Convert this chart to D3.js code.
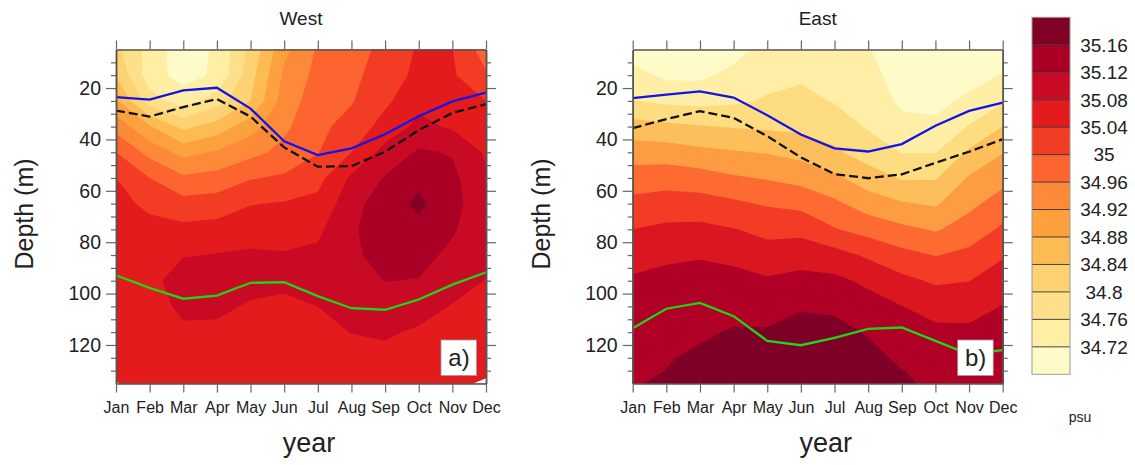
<!DOCTYPE html>
<html>
<head>
<meta charset="utf-8">
<script src="https://cdn.jsdelivr.net/npm/d3@7"></script>
<style>
  html, body { margin: 0; padding: 0; background: #fff; }
  svg { display: block; }
  text { font-family: "Liberation Sans", Arial, sans-serif; fill: #222; }
</style>
</head>
<body>
<svg width="1135" height="465"></svg>
<script>
var months = ["Jan", "Feb", "Mar", "Apr", "May", "Jun", "Jul", "Aug", "Sep", "Oct", "Nov", "Dec"];
var depths = [5, 15, 25, 35, 45, 55, 65, 75, 85, 95, 105, 115, 125, 131, 135];
var depthTicks = [20, 40, 60, 80, 100, 120];
var depthMinor = [10, 15, 25, 30, 35, 45, 50, 55, 65, 70, 75, 85, 90, 95, 105, 110, 115, 125, 130];

// salinity (psu), one row per depth, Jan..Dec
var westSalinity = [
  [34.81, 34.745, 34.695, 34.727, 34.81, 34.91, 34.965, 34.985, 35.01, 35.045, 35.041, 34.98],
  [34.837, 34.738, 34.705, 34.727, 34.825, 34.928, 34.972, 34.99, 35.02, 35.05, 35.045, 35.005],
  [34.887, 34.778, 34.742, 34.781, 34.84, 34.94, 34.98, 34.997, 35.032, 35.07, 35.06, 35.04],
  [34.945, 34.884, 34.829, 34.857, 34.903, 34.952, 34.99, 35.015, 35.055, 35.09, 35.075, 35.06],
  [35.0, 34.947, 34.907, 34.925, 34.948, 34.971, 34.998, 35.04, 35.095, 35.125, 35.117, 35.075],
  [35.04, 35.0, 34.967, 34.974, 34.997, 35.006, 35.027, 35.087, 35.123, 35.15, 35.13, 35.085],
  [35.05, 35.033, 35.014, 35.019, 35.038, 35.043, 35.051, 35.105, 35.143, 35.168, 35.135, 35.09],
  [35.06, 35.05, 35.05, 35.054, 35.065, 35.062, 35.072, 35.115, 35.14, 35.15, 35.125, 35.09],
  [35.065, 35.06, 35.077, 35.082, 35.085, 35.083, 35.088, 35.115, 35.13, 35.135, 35.11, 35.087],
  [35.07, 35.065, 35.105, 35.1, 35.095, 35.09, 35.095, 35.105, 35.121, 35.118, 35.095, 35.079],
  [35.065, 35.06, 35.09, 35.09, 35.075, 35.07, 35.08, 35.095, 35.1, 35.095, 35.078, 35.065],
  [35.06, 35.055, 35.072, 35.07, 35.065, 35.065, 35.07, 35.081, 35.085, 35.075, 35.065, 35.06],
  [35.055, 35.05, 35.055, 35.06, 35.06, 35.06, 35.06, 35.065, 35.07, 35.065, 35.06, 35.055],
  [35.05, 35.05, 35.05, 35.055, 35.055, 35.055, 35.055, 35.06, 35.065, 35.06, 35.055, 35.05],
  [35.05, 35.05, 35.05, 35.05, 35.055, 35.055, 35.055, 35.055, 35.06, 35.055, 35.05, 35.05]
];
var eastSalinity = [
  [34.68, 34.665, 34.665, 34.68, 34.72, 34.725, 34.72, 34.703, 34.665, 34.655, 34.665, 34.67],
  [34.716, 34.69, 34.69, 34.715, 34.735, 34.743, 34.735, 34.715, 34.68, 34.67, 34.685, 34.702],
  [34.752, 34.74, 34.736, 34.742, 34.755, 34.763, 34.747, 34.73, 34.69, 34.687, 34.709, 34.745],
  [34.82, 34.811, 34.803, 34.797, 34.792, 34.788, 34.775, 34.745, 34.715, 34.71, 34.753, 34.8],
  [34.876, 34.875, 34.863, 34.854, 34.847, 34.834, 34.808, 34.777, 34.748, 34.748, 34.808, 34.848],
  [34.924, 34.929, 34.922, 34.906, 34.896, 34.883, 34.86, 34.824, 34.796, 34.796, 34.855, 34.885],
  [34.964, 34.972, 34.971, 34.959, 34.945, 34.936, 34.91, 34.876, 34.855, 34.844, 34.888, 34.922],
  [35.0, 35.01, 35.012, 35.002, 34.985, 34.986, 34.953, 34.931, 34.911, 34.895, 34.922, 34.958],
  [35.029, 35.041, 35.047, 35.039, 35.022, 35.029, 35.019, 34.992, 34.965, 34.948, 34.962, 34.995],
  [35.057, 35.065, 35.063, 35.064, 35.056, 35.065, 35.061, 35.04, 35.013, 34.993, 34.999, 35.025],
  [35.07, 35.08, 35.078, 35.084, 35.08, 35.095, 35.091, 35.07, 35.051, 35.033, 35.031, 35.052],
  [35.08, 35.09, 35.093, 35.104, 35.105, 35.12, 35.115, 35.096, 35.072, 35.06, 35.06, 35.07],
  [35.09, 35.097, 35.108, 35.115, 35.122, 35.135, 35.13, 35.115, 35.091, 35.075, 35.075, 35.085],
  [35.095, 35.101, 35.113, 35.12, 35.128, 35.14, 35.135, 35.122, 35.103, 35.085, 35.085, 35.09],
  [35.098, 35.104, 35.117, 35.123, 35.13, 35.142, 35.137, 35.126, 35.108, 35.09, 35.09, 35.093]
];

// layer depths (m) drawn over the fill
var westBlue = [23.5, 24.5, 20.9, 19.9, 28, 40.7, 46.1, 43.5, 38, 31, 25.2, 21.8];
var westBlack = [28.8, 31.1, 27.4, 24.3, 31.1, 43.1, 50.6, 50.4, 44.8, 36.4, 29.7, 26.3];
var westGreen = [92.9, 97.8, 102, 100.8, 95.8, 95.6, 101, 105.7, 106.3, 102.3, 96.5, 91.7];
var eastBlue = [23.9, 22.6, 21.3, 23.7, 30.6, 38.1, 43.5, 44.7, 41.8, 34.7, 28.9, 25.7];
var eastBlack = [35.6, 32.1, 29, 31.6, 38.7, 47, 53.5, 55.1, 53.6, 49.1, 44.8, 39.9];
var eastGreen = [113.5, 105.9, 103.6, 108.8, 118.4, 120.1, 117.2, 113.7, 113.2, 118.4, 123.6, 122];

// small unfilled corners at the bottom of the West panel (month index, depth)
var westGapMonths = [[0, 0.12, 0], [10.62, 11, 11]];
var westGapDepths = [[134.2, 135, 135], [135, 133, 135]];

var westLevels = [34.5, 34.72, 34.76, 34.8, 34.84, 34.88, 34.92, 34.96, 35, 35.04, 35.08, 35.12, 35.16];
var westColors = ["#fffbc8", "#ffefa4", "#fee08b", "#fdd272", "#fdbb54", "#fda13f", "#fd8a38", "#fc6530", "#f23c24", "#e31b1c", "#c90a24", "#ab0026", "#800026"];
var eastLevels = [34.5, 34.7, 34.75, 34.8, 34.85, 34.9, 34.95, 35, 35.05, 35.1];
var eastColors = ["#fffbc8", "#ffeea6", "#fedc80", "#fdbf5b", "#fd9c43", "#fd6a32", "#f33c25", "#da1720", "#b10026", "#7f0026"];

var barLabels = ["35.16", "35.12", "35.08", "35.04", "35", "34.96", "34.92", "34.88", "34.84", "34.8", "34.76", "34.72"];

var svg = d3.select("svg");
var top0 = 49.5, bottom0 = 383.5;

var rowToDepth = d3.scaleLinear().domain(depths.map(function(d, i) { return i; })).range(depths);

function panel(opt) {
    var x = d3.scaleLinear().domain([0, months.length - 1]).range([opt.left, opt.right]);
    var y = d3.scaleLinear().domain([5, 135]).range([top0, bottom0]);
    var g = svg.append("g");

    g.append("clipPath").attr("id", opt.id)
        .append("rect")
        .attr("x", opt.left).attr("y", top0)
        .attr("width", opt.right - opt.left).attr("height", bottom0 - top0);

    // d3.contours puts grid points at half-integer coordinates
    var project = d3.geoTransform({
        point: function(px, py) {
            this.stream.point(x(px - 0.5), y(rowToDepth(py - 0.5)));
        }
    });
    var contours = d3.contours()
        .size([months.length, depths.length])
        .thresholds(opt.levels)(d3.merge(opt.values));

    g.append("g").attr("clip-path", "url(#" + opt.id + ")")
        .selectAll("path")
        .data(contours)
        .enter().append("path")
        .attr("d", d3.geoPath(project))
        .attr("fill", function(d, i) { return opt.colors[i]; });

    (opt.gapMonths || []).forEach(function(ms, k) {
        g.append("path")
            .attr("d", d3.line()(ms.map(function(m, i) { return [x(m), y(opt.gapDepths[k][i])]; })) + "Z")
            .attr("fill", "#fff");
    });

    var line = d3.line()
        .x(function(d, i) { return x(i); })
        .y(function(d) { return y(d); });

    [[opt.green, "#1fd41a", null], [opt.black, "#111", "9,4"], [opt.blue, "#1414e6", null]].forEach(function(s) {
        g.append("path")
            .attr("clip-path", "url(#" + opt.id + ")")
            .attr("d", line(s[0]))
            .attr("fill", "none")
            .attr("stroke", s[1])
            .attr("stroke-width", 2.3)
            .attr("stroke-dasharray", s[2]);
    });

    // axes: months on bottom and top, depth on both sides
    var monthIdx = months.map(function(d, i) { return i; });
    function styleAxis(a) {
        a.select(".domain").attr("stroke", "#555").attr("stroke-width", 1.5);
        a.selectAll(".tick line").attr("stroke", "#666").attr("stroke-width", 1.2);
    }
    var bottom = g.append("g").attr("transform", "translate(0," + bottom0 + ")")
        .call(d3.axisBottom(x).tickValues(monthIdx).tickSize(9).tickPadding(9).tickSizeOuter(0)
            .tickFormat(function(i) { return months[i]; }));
    bottom.selectAll("text").attr("font-size", 16).attr("font-family", null).attr("dy", "0.71em");
    styleAxis(bottom);
    styleAxis(g.append("g").attr("transform", "translate(0," + top0 + ")")
        .call(d3.axisTop(x).tickValues(monthIdx).tickSize(9).tickSizeOuter(0).tickFormat("")));

    var left = g.append("g").attr("transform", "translate(" + opt.left + ",0)")
        .call(d3.axisLeft(y).tickValues(depthTicks).tickSize(10).tickPadding(5).tickSizeOuter(0));
    left.selectAll("text").attr("font-size", 19.5).attr("font-family", null);
    styleAxis(left);
    styleAxis(g.append("g").attr("transform", "translate(" + opt.left + ",0)")
        .call(d3.axisLeft(y).tickValues(depthMinor).tickSize(5).tickSizeOuter(0).tickFormat("")));
    styleAxis(g.append("g").attr("transform", "translate(" + opt.right + ",0)")
        .call(d3.axisRight(y).tickValues(depthTicks).tickSize(10).tickSizeOuter(0).tickFormat("")));
    styleAxis(g.append("g").attr("transform", "translate(" + opt.right + ",0)")
        .call(d3.axisRight(y).tickValues(depthMinor).tickSize(5).tickSizeOuter(0).tickFormat("")));

    g.append("text").attr("x", (opt.left + opt.right) / 2).attr("y", 25)
        .attr("text-anchor", "middle").attr("font-size", 19).text(opt.title);
    g.append("text").attr("text-anchor", "middle").attr("font-size", 25)
        .attr("transform", "translate(" + (opt.left - 83) + ",214) rotate(-90)").text("Depth (m)");
    g.append("text").attr("x", (opt.left + opt.right) / 2 + 8).attr("y", 452)
        .attr("text-anchor", "middle").attr("font-size", 27).text("year");

    // panel tag
    g.append("rect").attr("x", opt.right - 45).attr("y", 340)
        .attr("width", 35.5).attr("height", 35.5)
        .attr("fill", "#fff").attr("stroke", "#999").attr("stroke-width", 0.8);
    g.append("text").attr("x", opt.right - 27).attr("y", 366)
        .attr("text-anchor", "middle").attr("font-size", 24).text(opt.tag);
}

panel({ id: "west", left: 116, right: 486, title: "West", tag: "a)", values: westSalinity,
    levels: westLevels, colors: westColors, blue: westBlue, black: westBlack, green: westGreen,
    gapMonths: westGapMonths, gapDepths: westGapDepths });
panel({ id: "east", left: 632.7, right: 1002.7, title: "East", tag: "b)", values: eastSalinity,
    levels: eastLevels, colors: eastColors, blue: eastBlue, black: eastBlack, green: eastGreen });

// colour bar
var barTop = 17.3, barBottom = 374.3, barLeft = 1032, barRight = 1070;
var barScale = d3.scaleBand()
    .domain(d3.range(westColors.length).reverse())
    .range([barTop, barBottom]);
var bar = svg.append("g");
bar.selectAll("rect.box")
    .data(d3.range(westColors.length))
    .enter().append("rect").attr("class", "box")
    .attr("x", barLeft).attr("width", barRight - barLeft)
    .attr("y", function(d) { return barScale(d); })
    .attr("height", barScale.bandwidth())
    .attr("fill", function(d) { return westColors[d]; });
bar.selectAll("line")
    .data(barLabels)
    .enter().append("line")
    .attr("x1", barLeft).attr("x2", barRight)
    .attr("y1", function(d, i) { return barTop + (i + 1) * barScale.bandwidth(); })
    .attr("y2", function(d, i) { return barTop + (i + 1) * barScale.bandwidth(); })
    .attr("stroke", "#333").attr("stroke-width", 0.9);
bar.append("rect").attr("x", barLeft).attr("y", barTop)
    .attr("width", barRight - barLeft).attr("height", barBottom - barTop)
    .attr("fill", "none").attr("stroke", "#999").attr("stroke-width", 1);
bar.selectAll("text.lab")
    .data(barLabels)
    .enter().append("text").attr("class", "lab")
    .attr("x", 1104)
    .attr("y", function(d, i) { return barTop + (i + 1) * barScale.bandwidth(); })
    .attr("dy", "0.36em")
    .attr("text-anchor", "middle").attr("font-size", 19).text(function(d) { return d; });
bar.append("text").attr("x", 1080).attr("y", 422)
    .attr("text-anchor", "middle").attr("font-size", 14).text("psu");
</script>
</body>
</html>
